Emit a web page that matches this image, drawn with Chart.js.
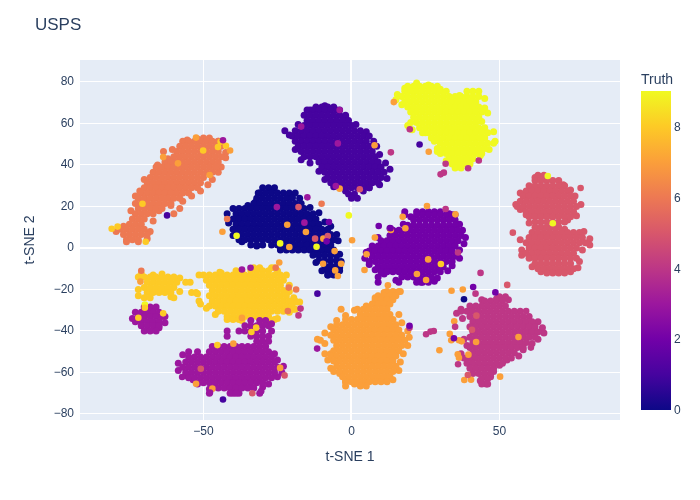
<!DOCTYPE html>
<html>
<head>
<meta charset="utf-8">
<title>USPS</title>
<script src="https://cdn.jsdelivr.net/npm/chart.js@4"></script>
<style>
html, body { margin: 0; padding: 0; background: #fff; }
canvas { display: block; }
</style>
</head>
<body>
<canvas id="chart" width="700" height="500"></canvas>
<script>
// each row: y value, then the x values read along that row
const truth0Rows = [
[29,-30,-28,-26],
[26.5,-31,-29,-27,-25,-23,-21,-19],
[24,-32,-30,-28,-26,-24,-22,-20],
[21.5,-33,-31,-29,-27,-25,-23,-21,-19,-17],
[19,-40,-38,-36,-34,-32,-30,-28,-26,-24,-22,-20,-18,-16],
[16.5,-39,-37,-35,-33,-31,-29,-27,-25,-23,-21,-19,-17,-15,-13],
[14,-40,-38,-36,-34,-32,-30,-28,-26,-24,-22,-20,-18,-16,-14,-12],
[11.5,-39,-37,-35,-33,-31,-29,-27,-25,-23,-21,-19,-17,-15,-13,-11],
[9,-40,-38,-36,-34,-32,-30,-28,-26,-24,-22,-20,-18,-16,-14,-12,-10,-8],
[6.5,-39,-37,-35,-33,-31,-29,-27,-25,-23,-21,-19,-17,-15,-13,-11,-9,-7],
[4,-38,-36,-34,-32,-30,-28,-26,-24,-22,-20,-18,-16,-14,-12,-10,-8,-6],
[1.5,-34,-32,-30,-27,-25,-23,-21,-19,-17,-15,-13,-11,-9,-7],
[-1,-24,-22,-20,-18,-16,-14,-12,-10,-8,-6],
[-3.5,-13,-11,-9,-7,-5],
[-6,-11,-9,-7,-5],
[-8.5,-9,-7,-5],
[-11,-8,-6,-4],
[-13,-8,-6]
];
const truth1Rows = [
[68,-12,-10,-8,-6],
[66.5,-15,-13,-11,-9,-7,-5],
[64,-16,-14,-12,-10,-8,-6,-4,-2],
[61.5,-15,-13,-11,-9,-7,-5,-3,-1],
[59,-16,-14,-12,-10,-8,-6,-4,-2,0],
[56.5,-19,-17,-15,-13,-11,-9,-7,-5,-3,-1,1,3],
[54,-20,-18,-16,-14,-12,-10,-8,-6,-4,-2,0,2,4,6],
[51.5,-19,-17,-15,-13,-11,-9,-7,-5,-3,-1,1,3,5],
[49,-18,-16,-14,-12,-10,-8,-6,-4,-2,0,2,4,6],
[46.5,-17,-15,-13,-11,-9,-7,-5,-3,-1,1,3,5,7],
[44,-16,-14,-12,-10,-8,-6,-4,-2,0,2,4,6,8],
[41.5,-11,-9,-7,-5,-3,-1,1,3,5,7,9],
[39,-10,-8,-6,-4,-2,0,2,4,6,8,10],
[36.5,-9,-7,-5,-3,-1,1,3,5,7,9,11],
[34,-8,-6,-4,-2,0,2,4,6,8,10],
[31.5,-7,-5,-3,-1,1,3,5,7,9],
[29,-4,-2,0,2,4,6],
[26,-1,1],
[24,0,2]
];
const truth2Rows = [
[17.5,18,24,26,28,30],
[16,18,22,24,26,28,30,32,34],
[13.5,21,23,25,27,29,31,33,35],
[11,19,21,23,25,27,29,31,33,35],
[8.5,14,16,18,20,22,24,26,28,30,32,34,36],
[6,13,15,17,19,21,23,25,27,29,31,33,35,37],
[3.5,10,12,14,16,18,20,22,24,26,28,30,32,34,36],
[1,9,11,13,15,17,19,21,23,25,27,29,31,33,35],
[-1.5,6,8,10,12,14,16,18,20,22,24,26,28,30,32,34],
[-4,7,9,11,13,15,17,19,21,23,25,27,29,31,33,35],
[-6.5,6,8,10,12,14,16,18,20,22,24,26,28,30,32,34],
[-9,9,11,13,15,17,19,21,23,25,27,29,31],
[-11.5,10,12,14,16,18,20,22,24,26,28,30],
[-14,9,17,19,21,23,25,27],
[-16.5,9,16,22,24,26]
];
const truth3Rows = [
[-28.5,-70,-68,-66],
[-31,-71,-69,-67,-65],
[-33,-72,-70,-68,-66,-64],
[-35.5,-73,-71,-69,-67,-65],
[-37.5,-71,-69,-67,-65],
[-40,-70,-68,-66],
[-35,-34,-31,-29],
[-37.5,-36,-34,-32,-30,-28],
[-40,-42,-38,-36,-34,-32,-30],
[-42.5,-42,-34,-32,-30,-28],
[-45,-32,-30,-28],
[-47.5,-47,-45,-43,-41,-39,-37,-35,-33,-31,-29],
[-50,-55,-52,-48,-46,-44,-42,-40,-38,-36,-34,-32,-30,-28],
[-52.5,-55,-53,-51,-49,-47,-45,-43,-41,-39,-37,-35,-33,-31,-29,-27],
[-55,-56,-54,-52,-50,-48,-46,-44,-42,-40,-38,-36,-34,-32,-30,-28,-26],
[-57.5,-57,-55,-53,-51,-49,-47,-45,-43,-41,-39,-37,-35,-33,-31,-29,-27,-25],
[-60,-56,-54,-52,-50,-48,-46,-44,-42,-40,-38,-36,-34,-32,-30,-28,-26],
[-62.5,-55,-53,-51,-49,-47,-45,-43,-41,-39,-37,-35,-33,-31,-29,-27],
[-65,-52,-50,-48,-46,-44,-42,-40,-38,-36,-34,-32,-30],
[-67.5,-47,-45,-43,-41,-39,-37,-35,-33],
[-70,-48,-41,-39,-31]
];
const truth4Rows = [
[-23.5,50,52],
[-25.5,45,47,49,51],
[-28,40,42,44,46,48,50,52],
[-30.5,37,39,41,43,45,47,49,51,53,55],
[-33,40,42,44,46,48,50,52,54,56,58],
[-35.5,41,43,45,47,49,51,53,55,57,59,61],
[-38,40,42,44,46,48,50,52,54,56,58,60,62],
[-40.5,41,43,45,47,49,51,53,55,57,59,61,63],
[-43,40,42,44,46,48,50,52,54,56,58,60,62],
[-45.5,41,43,45,47,49,51,53,55,57,59],
[-48,40,42,44,46,48,50,52,54,56,58],
[-50.5,41,43,45,47,49,51,53,55],
[-53,40,42,44,46,48,50,52,54],
[-55.5,39,41,43,45,47,49,51],
[-58,40,42,44,46,48],
[-60.5,43,45,47],
[-63,44,46],
[-65.5,44,46]
];
const truth5Rows = [
[35,63,65],
[32.5,62,64,66,68,70],
[30,60,62,64,66,68,70,72],
[27.5,59,61,63,65,67,69,71,73],
[25,58,60,62,64,66,68,70,72,74],
[22.5,57,59,61,63,65,67,69,71,73,75],
[20,56,58,60,62,64,66,68,70,72,74,76],
[17.5,59,61,63,65,67,69,71,73,75],
[15,60,62,64,66,68,70,72,74],
[12.5,62,64,66,68,70,72],
[10,62,64,66,68,70],
[7.5,61,63,65,67,69,71,73,75,77],
[5,60,62,64,66,68,70,72,74,76,78],
[2.5,59,61,63,65,67,69,71,73,75,77,79],
[0,60,62,64,66,68,70,72,74,76],
[-2.5,59,61,63,65,67,69,71,73,75],
[-5,60,62,64,66,68,70,72,74,76],
[-7.5,62,64,66,68,70,72,74],
[-10,63,65,67,69,71,73,75],
[-12,66,68,70,72]
];
const truth6Rows = [
[53,-50,-48],
[51.5,-57,-55,-53,-51,-49,-47,-45],
[49,-58,-56,-54,-52,-50,-48,-46,-44],
[46.5,-63.5,-59,-57,-55,-53,-51,-49,-47,-45],
[44,-60,-58,-56,-54,-52,-50,-48,-46,-44],
[41.5,-63,-61,-59,-57,-55,-53,-51,-49,-47,-45],
[39,-66,-64,-62,-60,-58,-56,-54,-52,-50,-48,-46],
[36.5,-67,-65,-63,-61,-59,-57,-55,-53,-51,-49,-47],
[34,-68,-66,-64,-62,-60,-58,-56,-54,-52,-50],
[31.5,-69,-67,-65,-63,-61,-59,-57,-55,-53,-51],
[29,-70,-68,-66,-64,-62,-60,-58,-56,-54,-52],
[26.5,-71,-69,-67,-65,-63,-61,-59,-57,-55],
[24,-72,-70,-68,-66,-64,-62,-60,-58],
[21.5,-73,-71,-69,-67,-65,-63,-61],
[19,-72,-70,-68,-66,-64,-58],
[16.5,-73,-71,-69,-67,-60],
[14,-74,-72,-70],
[11.5,-75,-73,-71],
[9,-78,-76,-74,-72,-70],
[6.5,-77,-75,-73,-71,-69],
[4,-76,-74,-72]
];
const truth7Rows = [
[-21,12,14,16],
[-23,9,11,13,15],
[-25,8,10,12,14],
[-27,7,9,11,13],
[-29.5,-3.5,2,4,6,8,10,12],
[-32,3,5,7,9,11,13],
[-34.5,-2,0,2,4,6,8,10,12,14],
[-37,-5,-3,-1,1,3,5,7,9,11,13,15],
[-39.5,-6,-4,-2,0,2,4,6,8,10,12,14,16],
[-42,-7,-5,-3,-1,1,3,5,7,9,11,13,15,17],
[-44.5,-10.5,-6,-4,-2,0,2,4,6,8,10,12,14,16,18],
[-47,-5,-3,-1,1,3,5,7,9,11,13,15,17],
[-49.5,-6,-4,-2,0,2,4,6,8,10,12,14,16],
[-52,-7,-5,-3,-1,1,3,5,7,9,11,13,15],
[-54.5,-6,-4,-2,0,2,4,6,8,10,12,14],
[-57,-5,-3,-1,1,3,5,7,9,11,13,15],
[-59.5,-6,-4,-2,0,2,4,6,8,10,12,14],
[-62,-3,-1,1,3,5,7,9,11,13],
[-64.5,-2,0,2,4,6,8,10,12],
[-66.5,-2,3,5]
];
const truth8Rows = [
[-12.5,-71,-64],
[-14,-70,-68,-66,-64,-62,-60],
[-16.5,-69,-67,-65,-63,-61,-59,-56,-54.5],
[-19,-70,-68,-66,-64,-62,-60],
[-21.5,-69,-67,-65,-63,-61,-54,-52.5],
[-24,-70,-68,-60],
[-9.5,-33,-31,-27],
[-11,-37,-34,-32,-30,-28],
[-13,-50,-48,-46,-44,-42,-40,-38,-36,-34,-32,-30,-28,-26,-24],
[-15.5,-49,-47,-45,-43,-41,-39,-37,-35,-33,-31,-29,-27,-25,-23],
[-18,-48,-46,-44,-42,-40,-38,-36,-34,-32,-30,-28,-26,-24],
[-20.5,-47,-45,-43,-41,-39,-37,-35,-33,-31,-29,-27,-25,-23],
[-23,-48,-46,-44,-42,-40,-38,-36,-34,-32,-30,-28,-26,-24,-22],
[-25.5,-51.5,-47,-45,-43,-41,-39,-37,-35,-33,-31,-29,-27,-25,-23,-21,-19],
[-28,-48,-46,-44,-42,-40,-38,-36,-34,-32,-30,-28,-26,-24,-22,-20],
[-30.5,-45,-43,-41,-39,-37,-35,-33,-31,-29,-27,-25,-23],
[-33,-42,-40,-38,-36,-34,-32,-30,-28],
[-34.5,-40,-38,-30,-28,-26]
];
const truth9Rows = [
[78,19,21,23,25,27,29],
[75.5,18,20,22,24,26,28,30,32,39,41,43],
[73,17,19,21,23,25,27,29,31,33,35,37,39,41,43],
[70.5,18,20,22,24,26,28,30,32,34,36,38,40,42],
[68,19,21,23,25,27,29,31,33,35,37,39,41,43],
[65.5,20,22,24,26,28,30,32,34,36,38,40,42,44],
[63,21,23,25,27,29,31,33,35,37,39,41,43],
[60.5,20,22,24,26,28,30,32,34,36,38,40,42],
[58,25,27,29,31,33,35,37,39,41,43,45],
[55.5,24,26,28,30,32,34,36,38,40,42,44,46],
[53,27,29,31,33,35,37,39,41,43,45],
[50.5,30,32,34,36,38,40,42,44,46,48],
[48,29,31,33,35,37,39,41,43,45],
[45.5,30,32,34,36,38,40,42,44],
[43,33,35,37,39,41],
[40.5,34,36,38,40],
[38.5,35,37]
];

// points along each cluster's rough outline, as x, y pairs
const truth0Edge = [[-27,28],[-31.5,26.5],[-20,24.5],[-17.5,24],[-14,19.5],[-11,17],[-9,12.5],[-7,10.5],[-5,6.5],[-4.5,3.5],[-4,-3],[-3.5,-6.5],[-4,-9.5],[-42,16.5],[-41.5,12],[-40,6],[-37,3],[-32,1],[-24,-0.5],[-8,-13],[-5,-12.5],[-10,-11],[-12,-7],[-15,-0.5],[-35,20.5],[-32.5,22]];
const truth1Edge = [[-9,68.5],[-14,66.5],[-4,66.5],[-2,63.5],[-18,59.5],[-22.5,56.5],[-21,54.5],[-19,47.5],[-17,42.5],[-14,41],[-11,37],[-9,33],[1.5,59.5],[5,56],[7.5,51.5],[8.5,49],[9.5,45],[11.5,41],[13,38],[12,33.5],[9.5,30.5],[6,29],[-6,29.5],[-2,27.5],[4,27.5]];
const truth2Edge = [[22,17.5],[33,16.5],[35,16],[20,15],[36.5,11.5],[17.5,11.5],[37.5,8.5],[13,9.5],[38.5,5],[38,2],[9,5],[36.5,-1],[7,1],[5,-2],[36.5,-5],[4.5,-5],[6,-8],[34,-8.5],[32.5,-11],[8,-10.5],[11,-12.5],[29,-14.5],[28,-16],[15,-15.5],[23.5,-16.5]];
const truth3Edge = [[-57,-51.5],[-58.5,-55.5],[-58.5,-59],[-56,-61.5],[-53.5,-63.5],[-52,-65.5],[-48,-68],[-23,-57],[-23.5,-60],[-25,-62],[-25,-54],[-26,-51],[-28,-65.5],[-30,-67],[-38,-70],[-40,-70],[-27,-36.5],[-27,-40],[-74,-34],[-73,-31],[-63,-33],[-63,-36],[-65,-38.5],[-68,-29]];
const truth4Edge = [[44,-25],[49,-24.5],[53,-25],[37,-29.5],[35.5,-31.5],[37.5,-34],[57,-30.5],[60,-33],[63,-35.5],[64.5,-38.5],[65,-41],[63,-44],[61,-46],[58,-49],[56.5,-52],[52.5,-54],[50,-56.5],[48,-59.5],[47,-62],[45.5,-65.5],[43.5,-64],[41,-60.5],[38,-53],[38,-44],[39,-47],[37,-51]];
const truth5Edge = [[62,34],[66,34.5],[71.5,30.5],[74,28],[75.5,25],[77.5,21],[57,26.5],[55.5,21],[57,18.5],[76,15.5],[73,13.5],[59,16],[60,12],[72,9],[78.5,8],[80.5,4.5],[80.5,1.5],[78,-1],[57,4],[57.5,-1],[57.5,-3.5],[77,-6.5],[76.5,-9.5],[74,-11.5],[64,-11.5],[61,-9]];
const truth6Edge = [[-55.5,52],[-52,52.5],[-45,51.5],[-60.5,47.5],[-42.5,46],[-42.5,43.5],[-62,43],[-65.5,40],[-44,39],[-45,36.5],[-70,33],[-47,33],[-48.5,30.5],[-71.5,27.5],[-51,27.5],[-54,25],[-73,25],[-57,22.5],[-61,20.5],[-65,18],[-74.5,18],[-67,13],[-77,10.5],[-79.5,8],[-68,8],[-69,4.5],[-76,3],[-72,3]];
const truth7Edge = [[11,-21.5],[15,-21.5],[16.5,-21],[8,-24],[5,-28],[1,-30],[-2,-32.5],[-5,-35],[-7,-38],[-9,-41],[-11.5,-44],[-9,-46],[-7,-51],[-9,-51],[-8,-54],[-7,-58],[-4,-60.5],[-2,-64.5],[1,-65.5],[16,-32],[17,-36],[19,-40],[19.5,-43],[19,-47],[17.5,-51],[16.5,-55],[16,-59],[14,-63.5]];
const truth8Edge = [[-51.5,-13],[-44,-12],[-39,-11],[-26,-9.5],[-25,-11],[-22,-13],[-21,-18],[-21,-21],[-19.5,-24],[-17.5,-26],[-19,-29.5],[-21,-31],[-25,-34],[-52,-22],[-51,-27],[-49,-29],[-46,-32],[-42,-34.5],[-37,-35],[-72,-14],[-72,-20],[-58,-14.5],[-58,-21],[-61,-23.5],[-72,-23],[-67,-13]];
const truth9Edge = [[15.5,74],[18,77],[22,79.5],[26,78.5],[30,76.5],[15,71.5],[17,69],[36.5,73.5],[45,72],[45,67.5],[46,65],[44,61],[48,56],[48.5,51.5],[46.5,47.5],[43.5,44.5],[40,41],[37,40],[32,42],[29,46.5],[23,58],[19,59],[20.5,57],[25,55.5],[28,51.5]];

// stray points lying off their own cluster, as x, y pairs
const truth0Stray = [[38,-24.7]];
const truth1Stray = [[-62.3,15.7],[23,49.9],[-43.4,-73],[-11.5,-22]];
const truth2Stray = [[-7.6,12.5],[-8.4,3.2],[41.1,-18.8],[48.6,-21.4],[34.6,-43.5],[9.2,10.6],[13.2,9.5],[19.6,-37.5]];
const truth3Stray = [[-43.4,51.9],[-25.2,19.7],[-14.9,24.4],[-15.9,12.2],[-17,58.5],[-4.6,50.4],[-4,66.5],[-5.3,29.9],[-37,-10.4],[-34.1,-9.5],[-57.2,-62.2],[-30.5,-69],[-47.8,-69.7],[-11.6,-48.5]];
const truth4Stray = [[13.3,46.1],[31.8,40.6],[39.4,38.4],[43,42.2],[30.1,35.5],[31.2,36.3],[19.7,57.2],[31.8,18.8],[36,-2.2],[43.6,-12],[41.9,-22],[35,-38],[59,-30.4],[60.6,-48],[36,-56],[19.6,-38.4],[25.2,-41.6],[26.7,-40.3],[27.8,-40],[-17.2,-29.2],[-17.9,-32.5]];
const truth5Stray = [[-17.9,19.7],[-8,5.8],[-12.3,4.5],[2.8,28.3],[54.5,7.4],[77.4,28.9],[52.6,-17.8],[42.2,-32.6],[40.7,-39.4],[39.3,-61.2],[-50.9,-58.2],[-33.5,-70],[-22.6,-61.4]];
const truth6Stray = [[-10.1,21.3],[-42,14],[-21.2,-19.1],[-18.7,-20],[-25.6,-9.5],[-21.5,-30.4],[-71,-11]];
const truth7Stray = [[-52.5,53.2],[-58.6,40.8],[-63.6,43.8],[-47.9,35.2],[-41,47],[-43.6,7.8],[-21.7,11.2],[-15.4,7.7],[-9.5,4.5],[-21,0.5],[-4,28.6],[-5.7,-1.5],[-9.6,-7.6],[-3.5,-7.6],[-5.5,-10.8],[-4.6,-13.5],[-24.4,-7],[7.8,49.5],[14.3,70.3],[26.1,46.4],[25.5,20.2],[17.3,15],[35.1,16.2],[7.9,5],[0.2,3.7],[13.3,8.7],[18.2,9.5],[5.1,-3],[25.9,-5.5],[22.1,-12.5],[25.2,-15.4],[4.4,-10.6],[12.3,-18],[33.8,-20.6],[37.6,-20],[34.7,-35.3],[33.2,-41.4],[33.7,-44.5],[36.3,-44.5],[37.2,-45],[42.1,-45.3],[39.5,-51.4],[35.9,-51.2],[36.3,-52.9],[56.4,-42.9],[50.2,-62],[38.1,-63.6],[40.4,-63.5],[29.7,-49.3],[-37,-33.7],[-71.3,-16.2],[-39.9,-46.1],[-24.1,-57.8],[-52.5,-65.4],[-47,-67.8]];
const truth8Stray = [[-50.1,47],[-70.6,21.3],[-81,9.3],[-79,10.3],[-69.5,3],[-44.2,51.2],[-45.1,48.7],[-42.4,49.3],[30.2,-7.7],[-72,-33.6],[-69.8,-28.8],[-63.6,-31.5],[-33.8,-40.5],[-45.3,-46.8],[-32.2,-38.4],[-44.5,-11.6],[-18.4,-26.2],[-19.7,-29.6]];
const truth9Stray = [[-38.8,5.9],[-24.1,2.2],[-11.8,0.6],[-0.9,15.7],[66.3,34.7],[68,11.9],[-69.8,-27.2]];

const clusterRows = [truth0Rows, truth1Rows, truth2Rows, truth3Rows, truth4Rows, truth5Rows, truth6Rows, truth7Rows, truth8Rows, truth9Rows];
const clusterEdges = [truth0Edge, truth1Edge, truth2Edge, truth3Edge, truth4Edge, truth5Edge, truth6Edge, truth7Edge, truth8Edge, truth9Edge];
const strayPoints = [truth0Stray, truth1Stray, truth2Stray, truth3Stray, truth4Stray, truth5Stray, truth6Stray, truth7Stray, truth8Stray, truth9Stray];
const plasma = ["#0d0887", "#46039f", "#7201a8", "#9c179e", "#bd3786", "#d8576b", "#ed7953", "#fb9f3a", "#fdca26", "#f0f921"];
const xTicks = [-50, 0, 50];
const yTicks = [-80, -60, -40, -20, 0, 20, 40, 60, 80];
const barTicks = [0, 2, 4, 6, 8];
const textColor = "#2a3f5f";
const fontName = '"Liberation Sans", Arial, sans-serif';

const datasets = [];
clusterRows.forEach((rows, i) => {
    const points = clusterEdges[i].map((p) => ({ x: p[0], y: p[1] }));
    rows.forEach((row) => {
        row.slice(1).forEach((x) => points.push({ x: x, y: row[0] }));
    });
    datasets.push({ label: "" + i, data: points, backgroundColor: plasma[i], pointRadius: 3.5, order: 1 });
});
strayPoints.forEach((rows, i) => {
    datasets.push({
        label: i + " stray",
        data: rows.map((p) => ({ x: p[0], y: p[1] })),
        backgroundColor: plasma[i],
        pointRadius: 3.3,
        order: 0,
    });
});

// title and colour bar, neither has an axis of the plot to hang on
const furniture = {
    id: "furniture",
    afterDraw(chart) {
        const ctx = chart.ctx;
        ctx.save();
        ctx.fillStyle = textColor;
        ctx.textBaseline = "middle";
        ctx.textAlign = "left";
        ctx.font = "17px " + fontName;
        ctx.fillText("USPS", 35, 25);
        ctx.font = "14px " + fontName;
        ctx.fillText("Truth", 641, 80);

        const top = 91, bottom = 410, left = 641, width = 30;
        const grad = ctx.createLinearGradient(0, bottom, 0, top);
        plasma.forEach((c, i) => grad.addColorStop(i / 9, c));
        ctx.fillStyle = grad;
        ctx.fillRect(left, top, width, bottom - top);

        ctx.fillStyle = textColor;
        ctx.font = "12px " + fontName;
        barTicks.forEach((t) => {
            ctx.fillText("" + t, left + width + 3, bottom + 1 - (t / 9) * (bottom - top));
        });
        ctx.restore();
    },
};

const plotBackground = {
    id: "plotBackground",
    beforeDraw(chart) {
        const a = chart.chartArea;
        chart.ctx.fillStyle = "#E5ECF6";
        chart.ctx.fillRect(a.left, a.top, a.width, a.height);
    },
};

const minusLabel = (v) => ("" + v).replace("-", "\u2212");

new Chart(document.getElementById("chart"), {
    type: "scatter",
    data: { datasets: datasets },
    plugins: [plotBackground, furniture],
    options: {
        responsive: false,
        animation: false,
        layout: { padding: { top: 60, right: 80, left: 0, bottom: 0 } },
        elements: { point: { borderWidth: 0 } },
        plugins: { legend: { display: false }, tooltip: { enabled: false } },
        scales: {
            x: {
                type: "linear",
                min: -91.7,
                max: 90.7,
                afterFit(s) { s.height = 80; },
                afterBuildTicks(s) { s.ticks = xTicks.map((v) => ({ value: v })); },
                border: { display: false },
                grid: {
                    color: "#fff",
                    drawTicks: false,
                    lineWidth: (c) => (c.tick && c.tick.value === 0 ? 2 : 1),
                },
                ticks: {
                    color: textColor,
                    padding: 4,
                    maxRotation: 0,
                    font: { size: 12, family: fontName },
                    callback: minusLabel,
                },
                title: {
                    display: true,
                    text: "t-SNE 1",
                    color: textColor,
                    font: { size: 14, family: fontName },
                    padding: { top: 0, bottom: 34 },
                },
            },
            y: {
                type: "linear",
                min: -82.9,
                max: 90.6,
                afterFit(s) { s.width = 80; },
                afterBuildTicks(s) { s.ticks = yTicks.map((v) => ({ value: v })); },
                border: { display: false },
                grid: {
                    color: "#fff",
                    drawTicks: false,
                    lineWidth: (c) => (c.tick && c.tick.value === 0 ? 2 : 1),
                },
                ticks: {
                    color: textColor,
                    padding: 6,
                    font: { size: 12, family: fontName },
                    callback: minusLabel,
                },
                title: {
                    display: true,
                    text: "t-SNE 2",
                    color: textColor,
                    font: { size: 14, family: fontName },
                    padding: { top: 22, bottom: 0 },
                },
            },
        },
    },
});
</script>
</body>
</html>
